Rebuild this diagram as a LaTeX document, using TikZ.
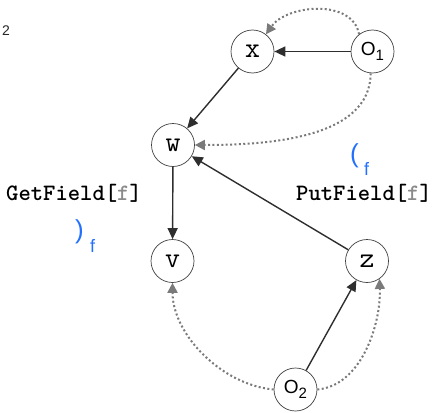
\documentclass[tikz,border=0pt]{standalone}
\usepackage{fontspec}
\setmainfont{Liberation Sans}
\usetikzlibrary{arrows.meta}
\definecolor{edgec}{HTML}{2E2E2E}
\definecolor{dotc}{HTML}{7A7A7A}
\definecolor{blu}{HTML}{2370FF}
\definecolor{fgrey}{HTML}{8A8A8A}
\begin{document}
\begin{tikzpicture}[x=1pt,y=-1pt,
  vert/.style={circle,draw=black!75,line width=0.7pt,minimum size=43pt,inner sep=0pt,fill=white,
    font=\ttfamily\fontsize{29}{29}\selectfont},
  overt/.style={circle,draw=black!75,line width=0.7pt,minimum size=43pt,inner sep=0pt,fill=white,
    font=\fontsize{19}{19}\selectfont},
  soledge/.style={draw=edgec,line width=1.4pt,-{Triangle[length=11pt,width=10pt]}},
  dotedge/.style={draw=dotc,line width=2pt,dash pattern=on 2pt off 2.4pt,-{Triangle[length=10pt,width=10pt]}},
  oplabel/.style={anchor=base west,inner sep=0pt,font=\ttfamily\bfseries\fontsize{23.5}{23.5}\selectfont},
  paren/.style={anchor=base west,inner sep=0pt,text=blu,font=\fontsize{26}{26}\selectfont},
  psub/.style={anchor=base west,inner sep=0pt,text=blu,font=\fontsize{18}{18}\selectfont}
]
\useasboundingbox (0,0) rectangle (435,412);

\node[vert] (x) at (252.5,51.5) {x};
\node[overt] (o1) at (372.5,51.5) {O\raisebox{-5pt}{\fontsize{15}{15}\selectfont 1}};
\node[vert] (w) at (173,145) {w};
\node[vert] (v) at (172.5,261) {v};
\node[vert] (z) at (367,261) {z};
\node[overt] (o2) at (295.5,389.5) {O\raisebox{-5pt}{\fontsize{15}{15}\selectfont 2}};

\node[anchor=base west,inner sep=0pt,font=\fontsize{14}{14}\selectfont,text=black!85] (two) at (2,36) {2};

\node[oplabel] (get) at (6,200) {GetField[\textcolor{fgrey}{f}]};
\node[oplabel] (put) at (296,200) {PutField[\textcolor{fgrey}{f}]};

\node[paren] (lp) at (350,162) {(};
\node[psub] (lpf) at (364,175) {f};
\node[paren] (rp) at (75,238) {)};
\node[psub] (rpf) at (90,252) {f};

\draw[soledge] (o1) -- (x);
\draw[soledge] (x) -- (w);
\draw[soledge] (w) -- (v);
\draw[soledge] (z) -- (w);
\draw[soledge] (o2) -- (z);

\draw[dotedge] (o1.128) to[out=100,in=55,looseness=1.0] (x.52);
\draw[dotedge] (o1.-95) to[out=-90,in=0,looseness=0.9] (w.east);
\draw[dotedge] (o2.west) to[out=175,in=-90,looseness=0.9] (v.south);
\draw[dotedge] (o2.east) to[out=5,in=-88,looseness=0.9] (z.-55);
\end{tikzpicture}
\end{document}
